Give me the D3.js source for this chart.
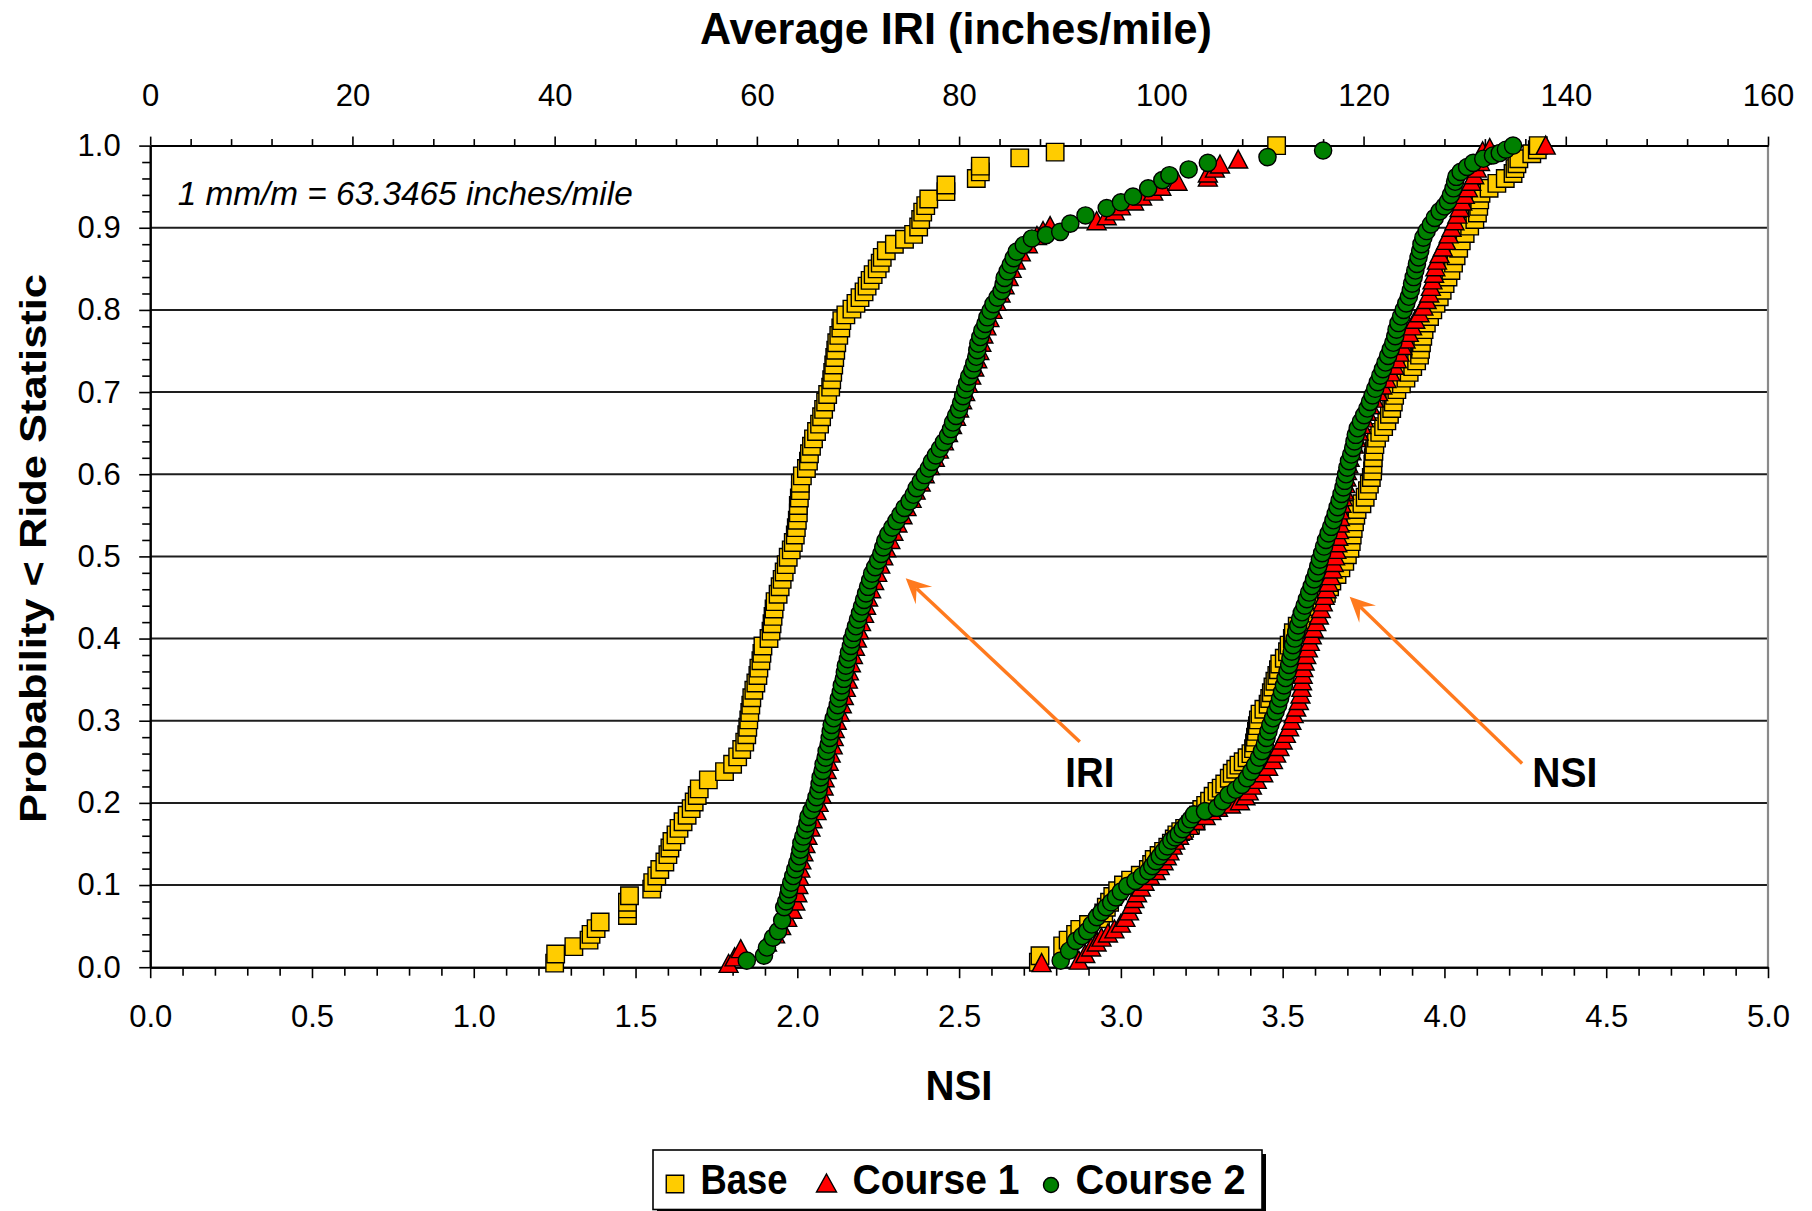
<!DOCTYPE html>
<html><head><meta charset="utf-8">
<script src="https://cdn.jsdelivr.net/npm/d3@7/dist/d3.min.js"></script>
<style>
html,body{margin:0;padding:0;background:#fff;}
svg{display:block;font-family:"Liberation Sans",Arial,Helvetica,sans-serif;}
</style></head><body>
<svg id="chart" width="1812" height="1211"></svg>
<script>
// ---------- axis tick labels ----------
const nsiTicks  = [0, 0.5, 1, 1.5, 2, 2.5, 3, 3.5, 4, 4.5, 5];
const iriTicks  = [0, 20, 40, 60, 80, 100, 120, 140, 160];
const probTicks = [0, 0.1, 0.2, 0.3, 0.4, 0.5, 0.6, 0.7, 0.8, 0.9, 1.0];
const seriesNames = ["Base", "Course 1", "Course 2"];

// ---------- data: [Average IRI (inches/mile), probability] ----------
const baseIRI = [[40.0,0.005],[40.1,0.016],[41.9,0.025],[43.4,0.033],[43.6,0.04],[44.1,0.047],[44.5,0.055],[47.2,0.063],[47.2,0.071],[47.2,0.079],[47.4,0.087],[49.6,0.095],[49.7,0.103],[50.1,0.111],[50.4,0.119],[50.9,0.128],[51.2,0.137],[51.4,0.145],[51.6,0.153],[52.0,0.161],[52.3,0.169],[52.7,0.177],[53.1,0.185],[53.5,0.193],[53.8,0.201],[54.1,0.209],[54.3,0.217],[55.2,0.228],[56.8,0.238],[57.6,0.247],[58.1,0.256],[58.5,0.265],[58.8,0.274],[59.0,0.283],[59.1,0.292],[59.2,0.301],[59.3,0.31],[59.4,0.319],[59.5,0.328],[59.7,0.337],[59.9,0.346],[60.1,0.355],[60.2,0.364],[60.4,0.373],[60.5,0.382],[60.6,0.391],[61.2,0.4],[61.4,0.409],[61.5,0.418],[61.6,0.427],[61.7,0.436],[61.8,0.445],[62.1,0.454],[62.3,0.463],[62.5,0.472],[62.7,0.481],[62.9,0.49],[63.1,0.499],[63.4,0.508],[63.6,0.517],[63.8,0.526],[63.9,0.535],[64.0,0.544],[64.1,0.553],[64.1,0.562],[64.2,0.571],[64.3,0.58],[64.3,0.589],[64.5,0.598],[64.9,0.607],[65.1,0.616],[65.2,0.625],[65.4,0.634],[65.6,0.643],[65.9,0.652],[66.2,0.661],[66.4,0.67],[66.6,0.679],[66.8,0.688],[67.0,0.697],[67.3,0.706],[67.4,0.715],[67.5,0.724],[67.6,0.733],[67.7,0.742],[67.8,0.751],[67.9,0.76],[68.1,0.769],[68.3,0.778],[68.4,0.787],[68.8,0.794],[69.4,0.801],[69.8,0.808],[70.2,0.815],[70.6,0.822],[70.9,0.829],[71.2,0.836],[71.5,0.843],[71.9,0.85],[72.2,0.857],[72.4,0.864],[72.8,0.872],[73.6,0.88],[74.6,0.886],[75.5,0.892],[76.0,0.901],[76.2,0.91],[76.4,0.919],[76.7,0.927],[77.0,0.935],[78.7,0.944],[78.7,0.952],[81.7,0.96],[82.1,0.968],[82.1,0.975],[86.0,0.985],[89.5,0.992],[111.4,1.0]];

const course1IRI = [[57.2,0.004],[57.8,0.012],[58.4,0.022],[61.0,0.03],[61.8,0.04],[62.4,0.05],[63.0,0.06],[63.5,0.07],[63.8,0.08],[64.0,0.09],[64.1,0.1],[64.2,0.11],[64.3,0.12],[64.4,0.13],[64.6,0.14],[64.8,0.15],[65.0,0.16],[65.3,0.17],[65.5,0.18],[65.9,0.19],[66.1,0.2],[66.4,0.21],[66.6,0.22],[66.7,0.23],[66.9,0.24],[67.1,0.25],[67.3,0.26],[67.5,0.27],[67.6,0.28],[67.7,0.29],[67.9,0.3],[68.2,0.31],[68.4,0.32],[68.6,0.33],[68.8,0.34],[69.0,0.35],[69.1,0.36],[69.3,0.37],[69.5,0.38],[69.7,0.39],[69.9,0.4],[70.1,0.41],[70.3,0.42],[70.6,0.43],[70.8,0.44],[71.0,0.45],[71.3,0.46],[71.6,0.47],[71.9,0.48],[72.2,0.49],[72.5,0.5],[72.8,0.51],[73.2,0.52],[73.5,0.53],[73.9,0.54],[74.4,0.55],[74.8,0.56],[75.3,0.57],[75.7,0.58],[76.2,0.59],[76.6,0.6],[77.1,0.61],[77.6,0.62],[78.0,0.63],[78.5,0.64],[78.9,0.65],[79.3,0.66],[79.7,0.67],[80.0,0.68],[80.3,0.69],[80.6,0.7],[80.9,0.71],[81.2,0.72],[81.5,0.73],[81.8,0.74],[82.0,0.75],[82.2,0.76],[82.4,0.77],[82.7,0.78],[83.0,0.79],[83.3,0.8],[83.7,0.81],[84.1,0.82],[84.5,0.83],[84.9,0.84],[85.2,0.85],[85.6,0.86],[86.1,0.87],[86.8,0.88],[87.7,0.89],[88.3,0.896],[89.0,0.902],[93.6,0.908],[94.6,0.914],[95.4,0.92],[96.0,0.926],[97.3,0.932],[98.1,0.938],[99.2,0.944],[100.0,0.95],[101.6,0.956],[104.6,0.961],[104.6,0.966],[105.3,0.972],[105.8,0.977],[107.6,0.983]];

const course2IRI = [[59.0,0.008],[60.7,0.014],[61.0,0.024],[61.6,0.036],[62.1,0.044],[62.5,0.057],[62.7,0.073],[62.9,0.08],[63.1,0.088],[63.2,0.095],[63.4,0.103],[63.6,0.111],[63.8,0.119],[64.0,0.127],[64.2,0.135],[64.3,0.143],[64.4,0.151],[64.6,0.159],[64.8,0.167],[65.0,0.175],[65.1,0.183],[65.4,0.191],[65.7,0.199],[65.9,0.207],[66.1,0.215],[66.2,0.223],[66.3,0.231],[66.5,0.239],[66.6,0.247],[66.8,0.255],[66.9,0.263],[67.1,0.271],[67.2,0.279],[67.3,0.287],[67.4,0.295],[67.6,0.303],[67.8,0.311],[68.0,0.319],[68.1,0.327],[68.3,0.335],[68.4,0.343],[68.6,0.351],[68.7,0.359],[68.8,0.367],[69.0,0.375],[69.1,0.383],[69.3,0.391],[69.4,0.399],[69.6,0.407],[69.8,0.415],[70.0,0.423],[70.2,0.431],[70.4,0.439],[70.6,0.447],[70.8,0.455],[71.0,0.463],[71.2,0.471],[71.4,0.479],[71.7,0.487],[72.0,0.495],[72.3,0.503],[72.5,0.511],[72.7,0.519],[73.0,0.527],[73.4,0.535],[73.8,0.543],[74.2,0.551],[74.6,0.559],[75.1,0.567],[75.5,0.575],[75.8,0.583],[76.2,0.591],[76.6,0.599],[77.0,0.607],[77.3,0.615],[77.7,0.623],[78.1,0.631],[78.5,0.639],[78.9,0.647],[79.2,0.655],[79.4,0.663],[79.7,0.671],[80.0,0.679],[80.2,0.687],[80.4,0.695],[80.6,0.703],[80.8,0.711],[81.0,0.719],[81.3,0.727],[81.5,0.735],[81.7,0.743],[81.8,0.751],[81.9,0.759],[82.1,0.767],[82.3,0.775],[82.6,0.783],[82.8,0.791],[83.1,0.799],[83.4,0.807],[83.8,0.815],[84.2,0.823],[84.4,0.831],[84.5,0.839],[84.8,0.847],[85.1,0.855],[85.4,0.863],[85.7,0.871],[86.4,0.879],[87.2,0.887],[88.6,0.891],[90.0,0.895],[91.0,0.905],[92.5,0.915],[94.6,0.924],[96.0,0.931],[97.2,0.938],[98.7,0.948],[100.1,0.958],[100.8,0.964],[102.7,0.971],[104.6,0.979],[110.5,0.986],[116.0,0.994]];

// ---------- data: [NSI, probability] ----------
const baseNSI = [[2.745,0.006],[2.75,0.014],[2.82,0.026],[2.837,0.033],[2.86,0.04],[2.873,0.046],[2.9,0.052],[2.937,0.059],[2.947,0.066],[2.955,0.073],[2.965,0.079],[2.975,0.086],[2.99,0.093],[3.008,0.1],[3.03,0.106],[3.06,0.112],[3.085,0.119],[3.095,0.125],[3.103,0.131],[3.118,0.136],[3.132,0.141],[3.145,0.146],[3.156,0.151],[3.165,0.156],[3.173,0.161],[3.185,0.165],[3.197,0.169],[3.215,0.173],[3.232,0.178],[3.24,0.185],[3.25,0.192],[3.262,0.197],[3.274,0.202],[3.285,0.208],[3.297,0.214],[3.31,0.218],[3.321,0.223],[3.335,0.23],[3.344,0.236],[3.355,0.241],[3.365,0.246],[3.378,0.25],[3.39,0.255],[3.402,0.26],[3.41,0.266],[3.413,0.273],[3.416,0.28],[3.419,0.287],[3.422,0.294],[3.425,0.301],[3.43,0.308],[3.442,0.314],[3.455,0.32],[3.46,0.327],[3.465,0.334],[3.47,0.341],[3.476,0.348],[3.482,0.355],[3.487,0.362],[3.491,0.369],[3.505,0.376],[3.515,0.384],[3.52,0.392],[3.53,0.4],[3.533,0.407],[3.545,0.415],[3.56,0.423],[3.58,0.431],[3.6,0.439],[3.62,0.447],[3.635,0.455],[3.645,0.463],[3.652,0.47],[3.668,0.478],[3.68,0.486],[3.692,0.494],[3.7,0.502],[3.708,0.51],[3.712,0.518],[3.715,0.526],[3.718,0.534],[3.722,0.542],[3.726,0.55],[3.73,0.557],[3.745,0.564],[3.755,0.572],[3.762,0.58],[3.768,0.588],[3.774,0.596],[3.778,0.604],[3.779,0.612],[3.78,0.62],[3.782,0.628],[3.785,0.636],[3.79,0.644],[3.8,0.651],[3.812,0.658],[3.822,0.665],[3.83,0.673],[3.837,0.68],[3.842,0.688],[3.846,0.696],[3.853,0.703],[3.867,0.71],[3.881,0.717],[3.891,0.724],[3.902,0.731],[3.914,0.738],[3.923,0.745],[3.926,0.752],[3.929,0.76],[3.933,0.768],[3.937,0.776],[3.944,0.784],[3.954,0.792],[3.964,0.8],[3.974,0.808],[3.984,0.816],[3.993,0.824],[4.002,0.832],[4.011,0.84],[4.02,0.848],[4.028,0.857],[4.036,0.866],[4.044,0.875],[4.052,0.884],[4.064,0.893],[4.078,0.902],[4.094,0.91],[4.102,0.918],[4.106,0.926],[4.109,0.934],[4.113,0.942],[4.138,0.948],[4.162,0.954],[4.188,0.96],[4.212,0.966],[4.218,0.972],[4.224,0.978],[4.23,0.984],[4.27,0.99],[4.287,0.995],[4.29,1.0]];

const course1NSI = [[2.755,0.005],[2.87,0.008],[2.89,0.016],[2.908,0.024],[2.925,0.03],[2.94,0.036],[2.96,0.041],[2.98,0.046],[3.0,0.053],[3.014,0.06],[3.025,0.068],[3.034,0.076],[3.042,0.083],[3.05,0.09],[3.062,0.097],[3.073,0.104],[3.09,0.111],[3.108,0.117],[3.12,0.123],[3.132,0.129],[3.142,0.135],[3.15,0.141],[3.16,0.148],[3.168,0.154],[3.18,0.16],[3.192,0.166],[3.21,0.172],[3.23,0.178],[3.262,0.184],[3.28,0.19],[3.3,0.194],[3.34,0.198],[3.368,0.202],[3.385,0.208],[3.395,0.214],[3.405,0.221],[3.42,0.228],[3.44,0.236],[3.455,0.244],[3.47,0.252],[3.48,0.26],[3.49,0.268],[3.5,0.276],[3.51,0.284],[3.52,0.292],[3.527,0.3],[3.534,0.308],[3.542,0.316],[3.55,0.324],[3.555,0.332],[3.558,0.34],[3.56,0.348],[3.562,0.356],[3.564,0.364],[3.568,0.372],[3.573,0.38],[3.578,0.388],[3.584,0.396],[3.59,0.404],[3.596,0.412],[3.604,0.42],[3.612,0.428],[3.618,0.436],[3.624,0.444],[3.63,0.452],[3.636,0.46],[3.642,0.468],[3.648,0.476],[3.654,0.484],[3.658,0.492],[3.662,0.5],[3.666,0.508],[3.669,0.516],[3.672,0.524],[3.674,0.532],[3.676,0.54],[3.677,0.548],[3.677,0.556],[3.682,0.564],[3.686,0.572],[3.69,0.58],[3.694,0.588],[3.697,0.596],[3.699,0.604],[3.703,0.612],[3.707,0.62],[3.713,0.628],[3.72,0.636],[3.727,0.644],[3.735,0.652],[3.743,0.66],[3.751,0.668],[3.76,0.676],[3.77,0.684],[3.782,0.692],[3.795,0.7],[3.808,0.708],[3.821,0.716],[3.833,0.724],[3.845,0.732],[3.853,0.74],[3.861,0.748],[3.87,0.756],[3.88,0.764],[3.89,0.772],[3.9,0.78],[3.91,0.788],[3.923,0.796],[3.935,0.804],[3.945,0.812],[3.953,0.82],[3.958,0.828],[3.963,0.836],[3.968,0.844],[3.972,0.852],[3.977,0.86],[3.985,0.868],[3.995,0.876],[4.005,0.884],[4.013,0.892],[4.022,0.9],[4.031,0.908],[4.04,0.916],[4.047,0.924],[4.055,0.932],[4.063,0.94],[4.073,0.948],[4.083,0.956],[4.092,0.964],[4.1,0.972],[4.11,0.98],[4.115,0.988],[4.118,0.993],[4.14,0.997],[4.313,1.0]];

const course2NSI = [[2.814,0.008],[2.84,0.02],[2.861,0.032],[2.88,0.038],[2.896,0.044],[2.91,0.052],[2.926,0.061],[2.94,0.067],[2.955,0.073],[2.97,0.079],[2.985,0.085],[3.0,0.092],[3.02,0.099],[3.045,0.105],[3.065,0.111],[3.085,0.117],[3.097,0.123],[3.108,0.129],[3.12,0.135],[3.132,0.141],[3.144,0.147],[3.156,0.154],[3.168,0.158],[3.179,0.162],[3.191,0.168],[3.203,0.174],[3.215,0.18],[3.226,0.186],[3.26,0.19],[3.297,0.194],[3.315,0.202],[3.333,0.21],[3.355,0.216],[3.374,0.222],[3.39,0.23],[3.403,0.238],[3.415,0.246],[3.427,0.255],[3.436,0.263],[3.445,0.271],[3.45,0.279],[3.456,0.287],[3.462,0.295],[3.47,0.303],[3.478,0.311],[3.486,0.319],[3.492,0.327],[3.498,0.335],[3.504,0.343],[3.509,0.352],[3.515,0.36],[3.52,0.368],[3.524,0.376],[3.528,0.384],[3.532,0.392],[3.537,0.4],[3.542,0.408],[3.548,0.416],[3.554,0.424],[3.56,0.432],[3.568,0.44],[3.575,0.448],[3.582,0.456],[3.59,0.464],[3.597,0.472],[3.604,0.48],[3.61,0.488],[3.615,0.496],[3.622,0.504],[3.628,0.512],[3.634,0.52],[3.642,0.528],[3.65,0.536],[3.657,0.544],[3.664,0.552],[3.67,0.56],[3.676,0.568],[3.682,0.576],[3.688,0.584],[3.692,0.592],[3.696,0.6],[3.7,0.608],[3.705,0.616],[3.712,0.624],[3.718,0.632],[3.722,0.64],[3.726,0.648],[3.732,0.656],[3.742,0.664],[3.752,0.672],[3.762,0.68],[3.77,0.688],[3.778,0.696],[3.786,0.704],[3.794,0.712],[3.802,0.72],[3.81,0.728],[3.818,0.736],[3.826,0.744],[3.834,0.752],[3.842,0.76],[3.848,0.768],[3.852,0.776],[3.858,0.784],[3.866,0.792],[3.874,0.8],[3.882,0.808],[3.89,0.816],[3.896,0.824],[3.9,0.832],[3.905,0.84],[3.91,0.848],[3.915,0.856],[3.92,0.864],[3.925,0.872],[3.929,0.88],[3.935,0.888],[3.945,0.896],[3.958,0.904],[3.97,0.912],[3.985,0.92],[4.0,0.926],[4.011,0.932],[4.02,0.94],[4.028,0.948],[4.033,0.956],[4.037,0.962],[4.05,0.968],[4.07,0.974],[4.089,0.979],[4.12,0.984],[4.15,0.988],[4.171,0.991],[4.19,0.995],[4.212,1.0]];

// ---------- annotations (in NSI / probability units) ----------
const noteText = "1 mm/m = 63.3465 inches/mile";
const notePos = [0.085, 0.928];
const iriArrow = {label: "IRI", labelPos: [2.904, 0.2197], tail: [2.873, 0.2745], tip: [2.335, 0.4733]};
const nsiArrow = {label: "NSI", labelPos: [4.372, 0.2197], tail: [4.24, 0.248], tip: [3.707, 0.451]};

// ---------- layout ----------
const plot = {left: 150.2, right: 1768, top: 145.6, bottom: 967.2};
const FONT = '"Liberation Sans", Arial, Helvetica, sans-serif';
const colors = {"Base": "#FFCC00", "Course 1": "#FF0000", "Course 2": "#008000"};

const x = d3.scaleLinear().domain([0, 5]).range([plot.left, plot.right]);
const xTop = d3.scaleLinear().domain([0, 160]).range([plot.left, plot.right]);
const y = d3.scaleLinear().domain([0, 1]).range([plot.bottom, plot.top]);

const svg = d3.select("#chart");
svg.append("rect").attr("width", 1812).attr("height", 1211).attr("fill", "#fff");

// gridlines
svg.append("g").selectAll("line")
  .data(probTicks.filter(d => d > 0 && d < 1)).join("line")
  .attr("x1", plot.left).attr("x2", plot.right)
  .attr("y1", d => y(d)).attr("y2", d => y(d))
  .attr("stroke", "#1e1e1e").attr("stroke-width", 2);

// right border
svg.append("line").attr("x1", plot.right).attr("x2", plot.right)
  .attr("y1", plot.top).attr("y2", plot.bottom)
  .attr("stroke", "#8a8a8a").attr("stroke-width", 2.2);

function styleAxis(g) {
  g.select(".domain").attr("stroke", "#000").attr("stroke-width", 2);
  g.selectAll(".tick line").attr("stroke", "#000").attr("stroke-width", 1.6);
  g.selectAll(".tick text").attr("font-size", 31).attr("fill", "#000").attr("font-family", FONT);
}
const isMult = (v, s) => Math.abs(v / s - Math.round(v / s)) < 1e-6;

// bottom axis (NSI)
const minorNSI = d3.range(0, 5.0001, 0.1).filter(v => !isMult(v, 0.5));
svg.append("g").attr("transform", `translate(0,${plot.bottom})`)
  .call(d3.axisBottom(x).tickValues(minorNSI).tickSize(8.5).tickSizeOuter(0).tickFormat(""))
  .call(styleAxis);
svg.append("g").attr("transform", `translate(0,${plot.bottom})`)
  .call(d3.axisBottom(x).tickValues(nsiTicks).tickSize(11).tickSizeOuter(0).tickPadding(27).tickFormat(d3.format(".1f")))
  .call(styleAxis);

// top axis (IRI)
const minorIRI = d3.range(0, 160.001, 4).filter(v => !isMult(v, 20));
svg.append("g").attr("transform", `translate(0,${plot.top})`)
  .call(d3.axisTop(xTop).tickValues(minorIRI).tickSize(6.5).tickSizeOuter(0).tickFormat(""))
  .call(styleAxis);
svg.append("g").attr("transform", `translate(0,${plot.top})`)
  .call(d3.axisTop(xTop).tickValues(iriTicks).tickSize(9).tickSizeOuter(0).tickPadding(30.5).tickFormat(d3.format("d")))
  .call(styleAxis);

// left axis (probability)
const minorP = d3.range(0, 1.0001, 0.02).filter(v => !isMult(v, 0.1));
svg.append("g").attr("transform", `translate(${plot.left},0)`)
  .call(d3.axisLeft(y).tickValues(minorP).tickSize(8).tickSizeOuter(0).tickFormat(""))
  .call(styleAxis);
svg.append("g").attr("transform", `translate(${plot.left},0)`)
  .call(d3.axisLeft(y).tickValues(probTicks).tickSize(11).tickSizeOuter(0).tickPadding(18.5).tickFormat(d3.format(".1f")))
  .call(styleAxis);

// ---------- markers ----------
const squarePath = d3.symbol(d3.symbolSquare, 17.5 * 17.5)();
const circlePath = d3.symbol(d3.symbolCircle, Math.PI * 8.6 * 8.6)();
const trianglePath = "M0,-9.5L9.5,8.5L-9.5,8.5Z";
const shapeFor = {"Base": squarePath, "Course 1": trianglePath, "Course 2": circlePath};

const layers = [
  {name: "Base", pts: baseIRI, sx: xTop},
  {name: "Base", pts: baseNSI, sx: x},
  {name: "Course 1", pts: course1IRI, sx: xTop},
  {name: "Course 1", pts: course1NSI, sx: x},
  {name: "Course 2", pts: course2IRI, sx: xTop},
  {name: "Course 2", pts: course2NSI, sx: x}
];
const marks = svg.append("g");
layers.forEach(L => {
  marks.append("g").selectAll("path").data(L.pts).join("path")
    .attr("d", shapeFor[L.name])
    .attr("transform", d => `translate(${L.sx(d[0])},${y(d[1])})`)
    .attr("fill", colors[L.name])
    .attr("stroke", "#000").attr("stroke-width", 1.4)
    .attr("stroke-linejoin", "miter");
});

// ---------- annotations ----------
svg.append("text").text(noteText)
  .attr("x", x(notePos[0])).attr("y", y(notePos[1]))
  .attr("font-size", 33).attr("font-style", "italic").attr("font-family", FONT)
  .attr("textLength", 455).attr("lengthAdjust", "spacingAndGlyphs");

function drawArrow(a, width) {
  const x0 = x(a.tail[0]), y0 = y(a.tail[1]), x1 = x(a.tip[0]), y1 = y(a.tip[1]);
  const dx = x1 - x0, dy = y1 - y0, len = Math.hypot(dx, dy);
  const ux = dx / len, uy = dy / len, px = -uy, py = ux;
  const hl = 25, hw = 12, notch = 15;
  const bx = x1 - ux * hl, by = y1 - uy * hl;
  const nx = x1 - ux * notch, ny = y1 - uy * notch;
  svg.append("line").attr("x1", x0).attr("y1", y0).attr("x2", nx).attr("y2", ny)
    .attr("stroke", "#FF7A1E").attr("stroke-width", 3.4);
  svg.append("path")
    .attr("d", `M${x1},${y1}L${bx + px * hw},${by + py * hw}L${nx},${ny}L${bx - px * hw},${by - py * hw}Z`)
    .attr("fill", "#FF7A1E");
  svg.append("text").text(a.label)
    .attr("x", x(a.labelPos[0])).attr("y", y(a.labelPos[1]))
    .attr("text-anchor", "middle").attr("font-weight", "bold")
    .attr("font-size", 42).attr("font-family", FONT)
    .attr("textLength", width).attr("lengthAdjust", "spacingAndGlyphs");
}
drawArrow(iriArrow, 49);
drawArrow(nsiArrow, 65);

// ---------- axis titles ----------
svg.append("text").text("Average IRI (inches/mile)")
  .attr("x", 956).attr("y", 44).attr("text-anchor", "middle")
  .attr("font-weight", "bold").attr("font-size", 45).attr("font-family", FONT)
  .attr("textLength", 512).attr("lengthAdjust", "spacingAndGlyphs");

svg.append("text").text("NSI")
  .attr("x", 959).attr("y", 1100).attr("text-anchor", "middle")
  .attr("font-weight", "bold").attr("font-size", 43).attr("font-family", FONT)
  .attr("textLength", 67).attr("lengthAdjust", "spacingAndGlyphs");

svg.append("text").text("Probability < Ride Statistic")
  .attr("transform", "translate(45.5,823) rotate(-90)")
  .attr("font-weight", "bold").attr("font-size", 37).attr("font-family", FONT)
  .attr("textLength", 549).attr("lengthAdjust", "spacingAndGlyphs");

// ---------- legend ----------
const lg = svg.append("g");
lg.append("rect").attr("x", 657).attr("y", 1154).attr("width", 609).attr("height", 60).attr("fill", "#000");
lg.append("rect").attr("x", 653).attr("y", 1150).attr("width", 609).attr("height", 59.5)
  .attr("fill", "#fff").attr("stroke", "#000").attr("stroke-width", 1.6);
const legendItems = [
  {name: seriesNames[0], mx: 675, my: 1184, tx: 700.5, tw: 87, path: squarePath},
  {name: seriesNames[1], mx: 826.5, my: 1183.5, tx: 852.5, tw: 167, path: "M0,-9.5L10,8.5L-10,8.5Z"},
  {name: seriesNames[2], mx: 1051, my: 1185, tx: 1075.5, tw: 170, path: d3.symbol(d3.symbolCircle, Math.PI * 7.5 * 7.5)()}
];
legendItems.forEach(it => {
  lg.append("path").attr("d", it.path).attr("transform", `translate(${it.mx},${it.my})`)
    .attr("fill", colors[it.name]).attr("stroke", "#000").attr("stroke-width", 1.4);
  lg.append("text").text(it.name).attr("x", it.tx).attr("y", 1193.5)
    .attr("font-weight", "bold").attr("font-size", 43).attr("font-family", FONT)
    .attr("textLength", it.tw).attr("lengthAdjust", "spacingAndGlyphs");
});
</script>
</body></html>
